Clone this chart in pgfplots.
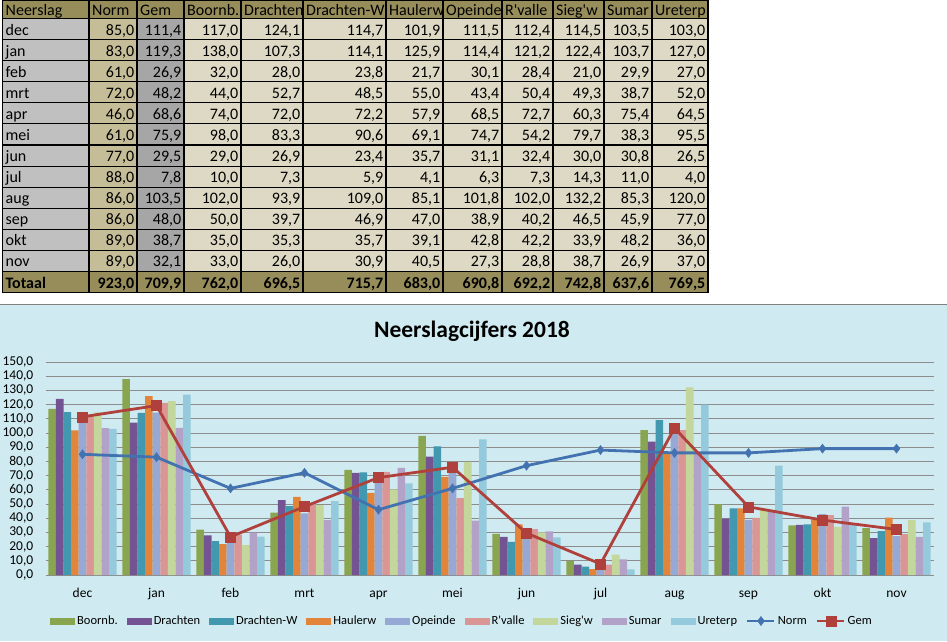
\documentclass[border=0pt]{standalone}
\usepackage{fontspec}
\setmainfont{Carlito}
\usepackage{pgfplots}
\usepackage{pgfplotstable}
\pgfplotsset{compat=1.18}

\definecolor{thead}{HTML}{978D5B}
\definecolor{tmonth}{HTML}{C0C0C0}
\definecolor{tnorm}{HTML}{C4BD97}
\definecolor{tgem}{HTML}{A6A6A6}
\definecolor{tdata}{HTML}{DDD9C4}
\definecolor{cbg}{HTML}{CFEBF1}
\definecolor{cgrid}{HTML}{8C8C8C}
\definecolor{cboorn}{HTML}{8AA550}
\definecolor{cdrach}{HTML}{735391}
\definecolor{cdrachw}{HTML}{4198AF}
\definecolor{chauler}{HTML}{E2843A}
\definecolor{copein}{HTML}{96A8D4}
\definecolor{crval}{HTML}{D99694}
\definecolor{csieg}{HTML}{C3D69B}
\definecolor{csumar}{HTML}{B2A2C7}
\definecolor{cure}{HTML}{94CADB}
\definecolor{cnorm}{HTML}{4372B0}
\definecolor{cgem}{HTML}{B0403C}

\pgfplotstableread{
mnd norm gem boornb drachten drachtenw haulerw opeinde rvalle siegw sumar ureterp
dec 85.0 111.4 117.0 124.1 114.7 101.9 111.5 112.4 114.5 103.5 103.0
jan 83.0 119.3 138.0 107.3 114.1 125.9 114.4 121.2 122.4 103.7 127.0
feb 61.0 26.9 32.0 28.0 23.8 21.7 30.1 28.4 21.0 29.9 27.0
mrt 72.0 48.2 44.0 52.7 48.5 55.0 43.4 50.4 49.3 38.7 52.0
apr 46.0 68.6 74.0 72.0 72.2 57.9 68.5 72.7 60.3 75.4 64.5
mei 61.0 75.9 98.0 83.3 90.6 69.1 74.7 54.2 79.7 38.3 95.5
jun 77.0 29.5 29.0 26.9 23.4 35.7 31.1 32.4 30.0 30.8 26.5
jul 88.0 7.8 10.0 7.3 5.9 4.1 6.3 7.3 14.3 11.0 4.0
aug 86.0 103.5 102.0 93.9 109.0 85.1 101.8 102.0 132.2 85.3 120.0
sep 86.0 48.0 50.0 39.7 46.9 47.0 38.9 40.2 46.5 45.9 77.0
okt 89.0 38.7 35.0 35.3 35.7 39.1 42.8 42.2 33.9 48.2 36.0
nov 89.0 32.1 33.0 26.0 30.9 40.5 27.3 28.8 38.7 26.9 37.0
}\neerslag

\newcommand{\tabfont}{\fontsize{16}{19}\selectfont}
\newcommand{\num}[1]{\pgfmathprintnumber[fixed,fixed zerofill,precision=1,use comma,assume math mode=true]{#1}}
\pgfplotsset{
  barleg/.style={legend image code/.code={\fill[##1] (0pt,-3.5pt) rectangle (25pt,3.5pt);}},
  lineleg/.style={legend image code/.code={\draw[mark repeat=2,mark phase=2,##1] plot coordinates {(0pt,0pt) (13.5pt,0pt) (27pt,0pt)};}},
  stn/.style={ybar, bar width=7.6pt, bar shift=#1, draw=none, barleg},
}

\begin{document}
\begin{tikzpicture}
\path[use as bounding box] (0pt,0pt) rectangle (947pt,-641pt);

\begin{scope}[x=1pt,y=-1pt]
% chart background
\fill[cbg] (0,303.5) rectangle (947,641);
\draw[gray, line width=1pt] (0,304) -- (947,304);

% table
\fill[tmonth] (2.5,18.5) rectangle (89,271.5);
\fill[tnorm] (89,18.5) rectangle (137,271.5);
\fill[tgem] (137,18.5) rectangle (184,271.5);
\fill[tdata] (184,18.5) rectangle (708,271.5);
\fill[thead] (2.5,0) rectangle (708,18.5);
\fill[thead] (2.5,271.5) rectangle (708,292.5);
\foreach \x in {2.5,89,137,184,241,303,386,443,502,553,604,652,708}
  \draw[line width=1.1pt] (\x,0) -- (\x,292.5);
\foreach \r in {0,...,12}
  \draw[line width=1.1pt] (2.5,18.5+\r*21.083) -- (708,18.5+\r*21.083);
\draw[line width=1.1pt] (2.5,0.5) -- (708,0.5);
\draw[line width=1.4pt] (2.5,292.5) -- (708,292.5);

\foreach \x/\t in {2.5/Neerslag,89/Norm,137/Gem,184/Boornb.,241/Drachten,303/Drachten-W,
    386/Haulerw,443/Opeinde,502/R\textquotesingle valle,553/Sieg\textquotesingle w,604/Sumar,652/Ureterp}
  \node[anchor=base west, inner sep=0pt, font=\tabfont] at (\x+3,15) {\t};

\foreach \r in {0,...,11} {
  \pgfmathsetmacro{\yb}{18.5+\r*21.083+16.5}
  \pgfplotstablegetelem{\r}{mnd}\of\neerslag
  \node[anchor=base west, inner sep=0pt, font=\tabfont] at (5.5,\yb) {\pgfplotsretval};
  \foreach \c/\xr in {norm/137,gem/184,boornb/241,drachten/303,drachtenw/386,haulerw/443,
      opeinde/502,rvalle/553,siegw/604,sumar/652,ureterp/708} {
    \pgfplotstablegetelem{\r}{\c}\of\neerslag
    \node[anchor=base east, inner sep=0pt, font=\tabfont] at (\xr-2.5,\yb) {\num{\pgfplotsretval}};
  }
}
\node[anchor=base west, inner sep=0pt, font=\tabfont\bfseries] at (5.5,288) {Totaal};
\foreach \v/\xr in {923.0/137,709.9/184,762.0/241,696.5/303,715.7/386,683.0/443,
    690.8/502,692.2/553,742.8/604,637.6/652,769.5/708}
  \node[anchor=base east, inner sep=0pt, font=\tabfont\bfseries] at (\xr-2.5,288) {\num{\v}};

% title
\node[anchor=base, inner sep=0pt, font=\fontsize{23.5}{26}\selectfont\bfseries] at (472,337) {Neerslagcijfers 2018};
\end{scope}

\begin{axis}[
  at={(45.5pt,-575pt)}, anchor=south west,
  scale only axis, width=888pt, height=213pt,
  xmin=-0.5, xmax=11.5, ymin=0, ymax=150,
  xtick={0,...,11},
  xticklabels={dec,jan,feb,mrt,apr,mei,jun,jul,aug,sep,okt,nov},
  ytick={0,10,...,150},
  axis line style={draw=none}, tick style={draw=none},
  ymajorgrids, grid style={cgrid, line width=1pt},
  tick label style={font=\fontsize{13.5}{15}\selectfont},
  xticklabel style={anchor=base, yshift=-22pt, inner sep=0pt},
  yticklabel style={anchor=east, inner sep=0pt, xshift=-12pt},
  /pgf/number format/fixed, /pgf/number format/fixed zerofill,
  /pgf/number format/precision=1, /pgf/number format/use comma,
  /pgf/number format/assume math mode=true,
  clip=false,
  legend columns=11,
  legend style={at={(0.005,-0.216)}, anchor=west, draw=none, fill=none,
    inner sep=0pt, font=\fontsize{12.5}{14}\selectfont,
    /tikz/every even column/.append style={column sep=7pt}},
]
\addplot[stn=-30.4pt, fill=cboorn] table[x expr=\coordindex, y=boornb]{\neerslag};
\addlegendentry{Boornb.}
\addplot[stn=-22.8pt, fill=cdrach] table[x expr=\coordindex, y=drachten]{\neerslag};
\addlegendentry{Drachten}
\addplot[stn=-15.2pt, fill=cdrachw] table[x expr=\coordindex, y=drachtenw]{\neerslag};
\addlegendentry{Drachten-W}
\addplot[stn=-7.6pt, fill=chauler] table[x expr=\coordindex, y=haulerw]{\neerslag};
\addlegendentry{Haulerw}
\addplot[stn=0pt, fill=copein] table[x expr=\coordindex, y=opeinde]{\neerslag};
\addlegendentry{Opeinde}
\addplot[stn=7.6pt, fill=crval] table[x expr=\coordindex, y=rvalle]{\neerslag};
\addlegendentry{R\textquotesingle valle}
\addplot[stn=15.2pt, fill=csieg] table[x expr=\coordindex, y=siegw]{\neerslag};
\addlegendentry{Sieg\textquotesingle w}
\addplot[stn=22.8pt, fill=csumar] table[x expr=\coordindex, y=sumar]{\neerslag};
\addlegendentry{Sumar}
\addplot[stn=30.4pt, fill=cure] table[x expr=\coordindex, y=ureterp]{\neerslag};
\addlegendentry{Ureterp}
\addplot[cnorm, line width=2.8pt, mark=diamond*, mark size=4.6pt,
  mark options={fill=cnorm, draw=cnorm, line width=0.4pt}, lineleg]
  table[x expr=\coordindex, y=norm]{\neerslag};
\addlegendentry{Norm}
\addplot[cgem, line width=2.8pt, mark=square*, mark size=5pt,
  mark options={fill=cgem, draw=cgem, line width=0.4pt}, lineleg]
  table[x expr=\coordindex, y=gem]{\neerslag};
\addlegendentry{Gem}
\end{axis}
\end{tikzpicture}
\end{document}
